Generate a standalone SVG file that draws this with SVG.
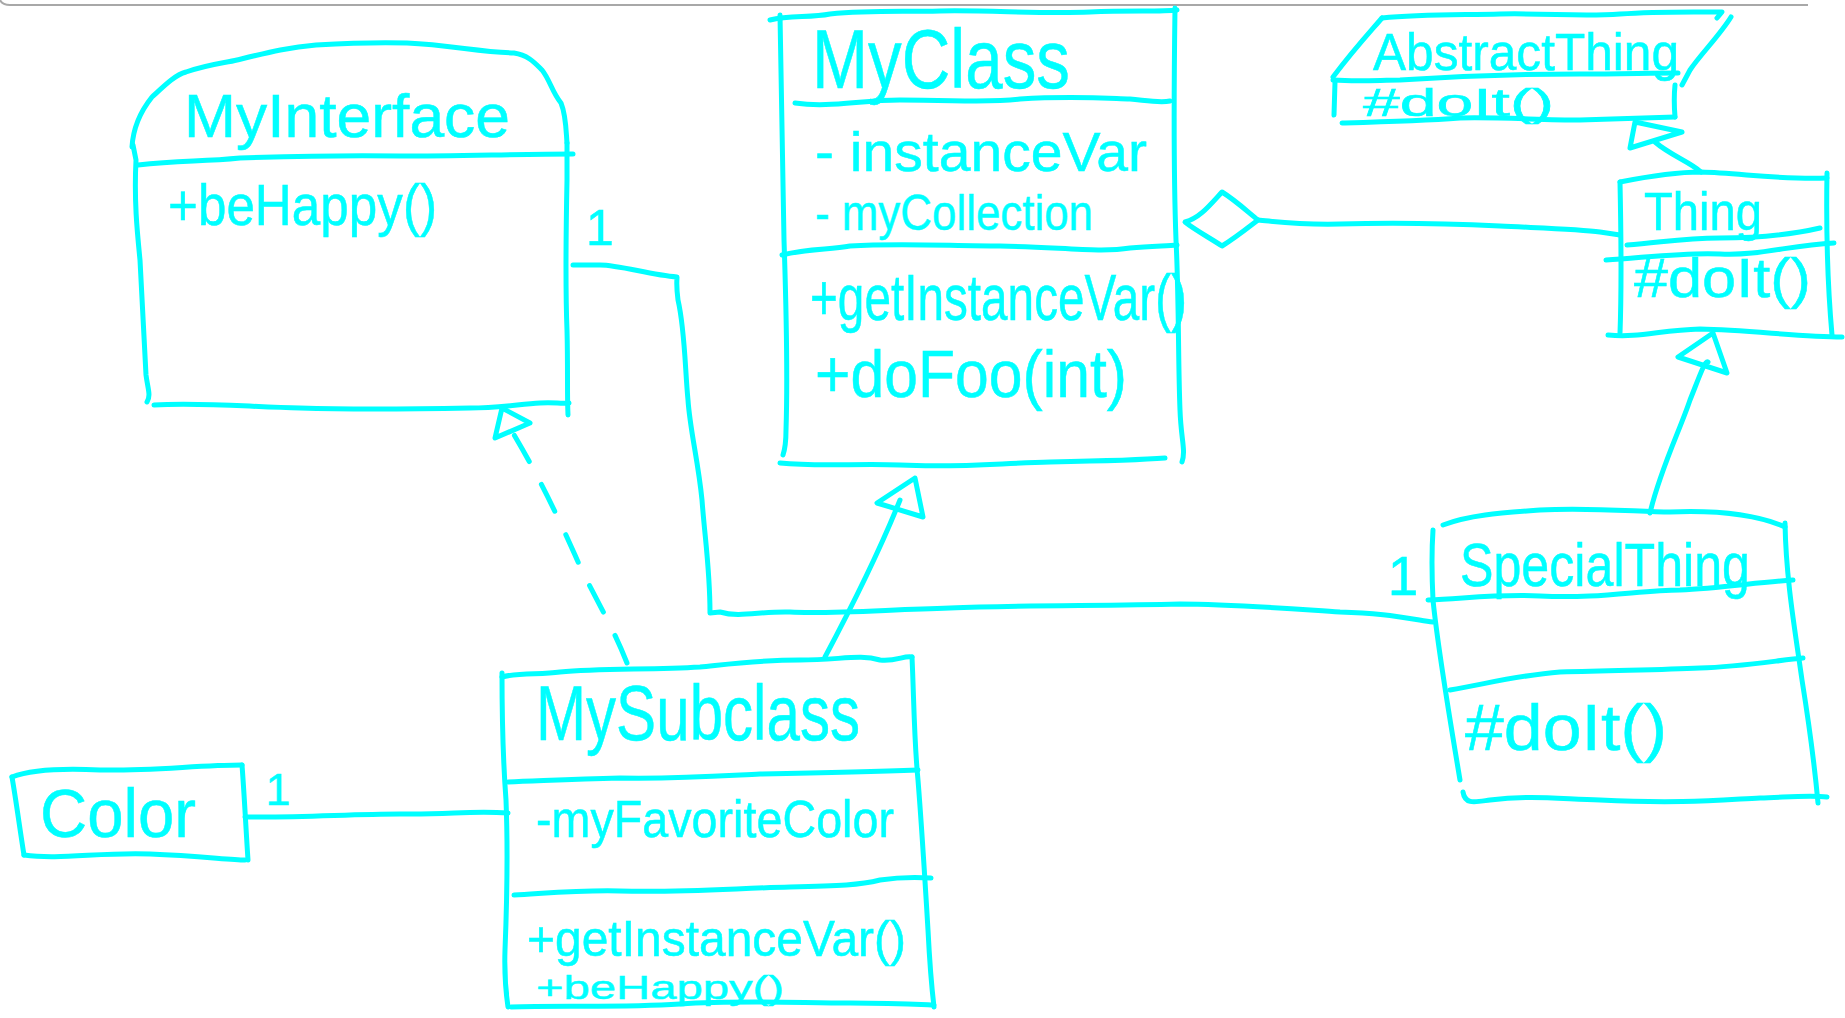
<svg xmlns="http://www.w3.org/2000/svg" width="1845" height="1018" viewBox="0 0 1845 1018">
  <style>
    .ink { fill: none; stroke: #00ffff; stroke-width: 5; stroke-linecap: round; stroke-linejoin: round; }
    .dash { stroke-dasharray: 30 26; }
    .t { fill: #00ffff; stroke: #00ffff; stroke-width: 0.5; font-family: "Liberation Sans", "DejaVu Sans", sans-serif; }
    .frame { fill: none; stroke: #a8a8a8; stroke-width: 2; }
  </style>
  <rect x="0" y="0" width="1845" height="1018" fill="#ffffff"/>
  <!-- window edge along the top -->
  <path class="frame" d="M0,0 C2,4 5,5 10,5 L1808,5"/>

  <!-- interface: MyInterface -->
  <g id="MyInterface">
    <path class="ink" d="M132,147 C133,130 140,112 152,97 C165,85 175,75 186,72 C210,64 225,63 237,60 C270,52 290,47 316,45 C350,43 380,42 407,43 C450,45 480,52 514,53 C528,55 535,63 542,70 C550,80 552,92 561,103 C566,115 566,130 567,143"/>
    <path class="ink" d="M133,145 L136,160 C134,200 137,230 140,260 C142,300 144,340 146,375 C148,390 151,395 147,402"/>
    <path class="ink" d="M138,165 C180,160 200,162 240,158 C300,156 350,155 400,156 C460,156 520,154 573,154"/>
    <path class="ink" d="M567,143 L567,180 C566,230 565,280 567,330 C568,370 567,395 568,415"/>
    <path class="ink" d="M154,405 C200,402 250,407 300,408 C360,410 420,409 470,408 C500,408 520,404 540,403 C555,402 560,404 569,403"/>
    <text class="t" x="184" y="137" font-size="62" textLength="326" lengthAdjust="spacingAndGlyphs">MyInterface</text>
    <text class="t" x="168" y="225" font-size="58" textLength="269" lengthAdjust="spacingAndGlyphs">+beHappy()</text>
  </g>

  <!-- class: MyClass -->
  <g id="MyClass">
    <path class="ink" d="M770,20 C790,15 810,18 830,14 C870,10 900,12 940,11 C990,10 1040,14 1090,12 C1130,10 1160,12 1177,10"/>
    <path class="ink" d="M780,15 C781,80 782,160 784,240 C786,300 788,370 786,430 C786,445 784,452 783,455"/>
    <path class="ink" d="M1175,8 C1174,80 1173,160 1176,240 C1179,300 1178,360 1180,410 C1181,440 1186,450 1182,462"/>
    <path class="ink" d="M795,103 C830,108 860,100 900,100 C960,100 990,103 1020,99 C1070,96 1100,98 1130,99 C1150,101 1160,103 1170,101"/>
    <path class="ink" d="M782,255 C810,248 830,250 850,246 C900,243 950,246 1000,246 C1060,247 1100,253 1130,248 C1150,246 1165,246 1177,245"/>
    <path class="ink" d="M780,463 C820,467 860,463 900,465 C960,468 1000,463 1050,462 C1100,461 1140,460 1165,458"/>
    <text class="t" x="812" y="88" font-size="84" textLength="258" lengthAdjust="spacingAndGlyphs">MyClass</text>
    <text class="t" x="815" y="171" font-size="56" textLength="332" lengthAdjust="spacingAndGlyphs">- instanceVar</text>
    <text class="t" x="815" y="230" font-size="50" textLength="278" lengthAdjust="spacingAndGlyphs">- myCollection</text>
    <text class="t" x="810" y="320" font-size="64" textLength="377" lengthAdjust="spacingAndGlyphs">+getInstanceVar()</text>
    <text class="t" x="815" y="397" font-size="66" textLength="312" lengthAdjust="spacingAndGlyphs">+doFoo(int)</text>
  </g>

  <!-- abstract class: AbstractThing -->
  <g id="AbstractThing">
    <path class="ink" d="M1382,18 C1420,14 1460,15 1500,14 C1550,13 1580,17 1620,14 C1660,11 1700,12 1722,12 L1717,18"/>
    <path class="ink" d="M1382,18 C1370,32 1355,48 1333,77"/>
    <path class="ink" d="M1731,17 C1720,35 1700,55 1690,70 L1682,85"/>
    <path class="ink" d="M1333,80 C1360,82 1380,80 1400,80 C1460,76 1520,74 1580,74 C1620,74 1650,73 1678,73"/>
    <path class="ink" d="M1335,82 L1334,115"/>
    <path class="ink" d="M1675,85 C1674,95 1674,105 1675,117"/>
    <path class="ink" d="M1342,123 C1380,122 1420,121 1460,118 C1500,117 1540,120 1580,120 C1620,119 1650,118 1675,117"/>
    <text class="t" x="1373" y="70" font-size="52" textLength="306" lengthAdjust="spacingAndGlyphs">AbstractThing</text>
    <text class="t" x="1363" y="116" font-size="38" textLength="191" lengthAdjust="spacingAndGlyphs">#doIt()</text>
  </g>

  <!-- class: Thing -->
  <g id="Thing">
    <path class="ink" d="M1620,182 C1650,176 1680,172 1701,172 C1740,173 1780,180 1827,178"/>
    <path class="ink" d="M1620,182 C1621,230 1622,280 1620,333"/>
    <path class="ink" d="M1827,173 C1826,230 1828,290 1832,335"/>
    <path class="ink" d="M1627,245 C1660,243 1680,238 1720,238 C1760,238 1790,235 1820,228"/>
    <path class="ink" d="M1606,260 C1650,257 1690,252 1720,254 C1760,256 1790,245 1834,243"/>
    <path class="ink" d="M1608,335 C1640,338 1660,330 1700,329 C1750,330 1800,337 1842,337"/>
    <text class="t" x="1644" y="230" font-size="54" textLength="118" lengthAdjust="spacingAndGlyphs">Thing</text>
    <text class="t" x="1634" y="297" font-size="56" textLength="177" lengthAdjust="spacingAndGlyphs">#doIt()</text>
  </g>

  <!-- class: SpecialThing -->
  <g id="SpecialThing">
    <path class="ink" d="M1443,525 C1470,515 1500,513 1540,510 C1590,507 1640,512 1670,512 C1720,510 1760,516 1785,527"/>
    <path class="ink" d="M1433,530 C1431,560 1432,580 1433,600 C1438,650 1450,720 1460,780"/>
    <path class="ink" d="M1785,523 C1786,580 1795,630 1802,680 C1810,730 1815,770 1818,803"/>
    <path class="ink" d="M1428,600 C1470,598 1500,594 1540,596 C1600,599 1640,590 1680,590 C1720,588 1760,582 1793,580"/>
    <path class="ink" d="M1450,690 C1490,683 1520,675 1560,672 C1620,670 1660,670 1700,668 C1740,667 1780,660 1803,658"/>
    <path class="ink" d="M1463,792 C1465,805 1475,802 1490,800 C1530,795 1560,799 1600,800 C1680,804 1720,800 1760,798 C1790,797 1810,795 1827,797"/>
    <text class="t" x="1460" y="586" font-size="62" textLength="290" lengthAdjust="spacingAndGlyphs">SpecialThing</text>
    <text class="t" x="1465" y="750" font-size="64" textLength="202" lengthAdjust="spacingAndGlyphs">#doIt()</text>
  </g>

  <!-- class: MySubclass -->
  <g id="MySubclass">
    <path class="ink" d="M502,677 C520,672 540,675 560,672 C600,668 650,670 700,667 C730,664 760,660 800,660 C840,660 860,654 880,660 C895,662 905,655 912,657"/>
    <path class="ink" d="M502,673 C502,720 503,760 506,800 C508,850 507,900 505,950 C504,980 507,1000 508,1007"/>
    <path class="ink" d="M912,657 C914,700 914,740 918,780 C922,830 925,880 928,930 C930,970 932,990 934,1007"/>
    <path class="ink" d="M508,782 C540,781 570,779 620,778 C680,779 720,776 760,774 C820,773 870,772 918,770"/>
    <path class="ink" d="M514,895 C550,893 580,890 620,891 C680,893 740,888 790,887 C840,886 860,885 880,880 C900,877 915,877 931,878"/>
    <path class="ink" d="M511,1007 C560,1005 620,1008 680,1004 C740,1000 800,1003 850,1003 C890,1003 910,1004 934,1005"/>
    <text class="t" x="536" y="740" font-size="78" textLength="324" lengthAdjust="spacingAndGlyphs">MySubclass</text>
    <text class="t" x="536" y="837" font-size="52" textLength="358" lengthAdjust="spacingAndGlyphs">-myFavoriteColor</text>
    <text class="t" x="527" y="956" font-size="50" textLength="379" lengthAdjust="spacingAndGlyphs">+getInstanceVar()</text>
    <text class="t" x="536" y="999" font-size="34" textLength="248" lengthAdjust="spacingAndGlyphs">+beHappy()</text>
  </g>

  <!-- class: Color -->
  <g id="Color">
    <path class="ink" d="M12,777 C30,770 60,768 100,770 C150,771 200,765 242,765"/>
    <path class="ink" d="M12,777 C16,800 20,830 24,855"/>
    <path class="ink" d="M242,765 C244,790 246,830 248,860"/>
    <path class="ink" d="M24,855 C60,860 100,852 150,854 C200,856 230,860 245,860"/>
    <text class="t" x="40" y="837" font-size="68" textLength="156" lengthAdjust="spacingAndGlyphs">Color</text>
  </g>

  <!-- relationships -->
  <g id="connectors">
    <!-- aggregation: MyClass holds Things -->
    <path class="ink" d="M1185,222 C1200,218 1210,205 1222,192 C1235,200 1248,212 1258,220 C1245,230 1235,238 1222,246 C1210,238 1195,230 1185,222 Z"/>
    <path class="ink" d="M1258,220 C1280,222 1300,225 1340,224 C1400,222 1460,224 1500,226 C1540,228 1580,229 1600,232 L1620,235"/>

    <!-- Thing extends AbstractThing -->
    <path class="ink" d="M1655,142 C1670,155 1690,162 1701,172"/>
    <path class="ink" d="M1635,122 L1630,148 L1682,132 Z"/>

    <!-- SpecialThing extends Thing -->
    <path class="ink" d="M1650,513 C1660,470 1680,430 1690,400 C1700,375 1705,360 1708,362"/>
    <path class="ink" d="M1713,333 L1678,357 L1727,373 Z"/>

    <!-- MySubclass extends MyClass -->
    <path class="ink" d="M825,657 C850,610 880,550 900,500"/>
    <path class="ink" d="M915,478 L877,503 L923,517 Z"/>

    <!-- MySubclass realizes MyInterface -->
    <path class="ink dash" d="M627,663 C610,620 590,590 575,555 C555,510 535,470 513,433"/>
    <path class="ink" d="M502,408 L530,423 L495,438 Z"/>

    <!-- association MyInterface to SpecialThing -->
    <path class="ink" d="M1433,622 C1400,617 1380,613 1340,612 C1280,608 1230,604 1180,604 C1100,606 1020,605 950,608 C880,610 830,614 790,612 C760,611 740,618 720,612 L710,613 C710,570 705,540 702,500 C698,460 690,430 688,400 C685,370 685,330 678,300 C676,285 677,280 677,277 C650,275 620,265 600,265 L573,265"/>
    <text class="t" x="600" y="245" font-size="50" text-anchor="middle">1</text>
    <text class="t" x="1403" y="595" font-size="55" text-anchor="middle">1</text>

    <!-- association MySubclass to Color -->
    <path class="ink" d="M245,817 C300,818 350,814 400,814 C450,815 470,810 508,813"/>
    <text class="t" x="278" y="805" font-size="45" text-anchor="middle">1</text>
  </g>
</svg>
